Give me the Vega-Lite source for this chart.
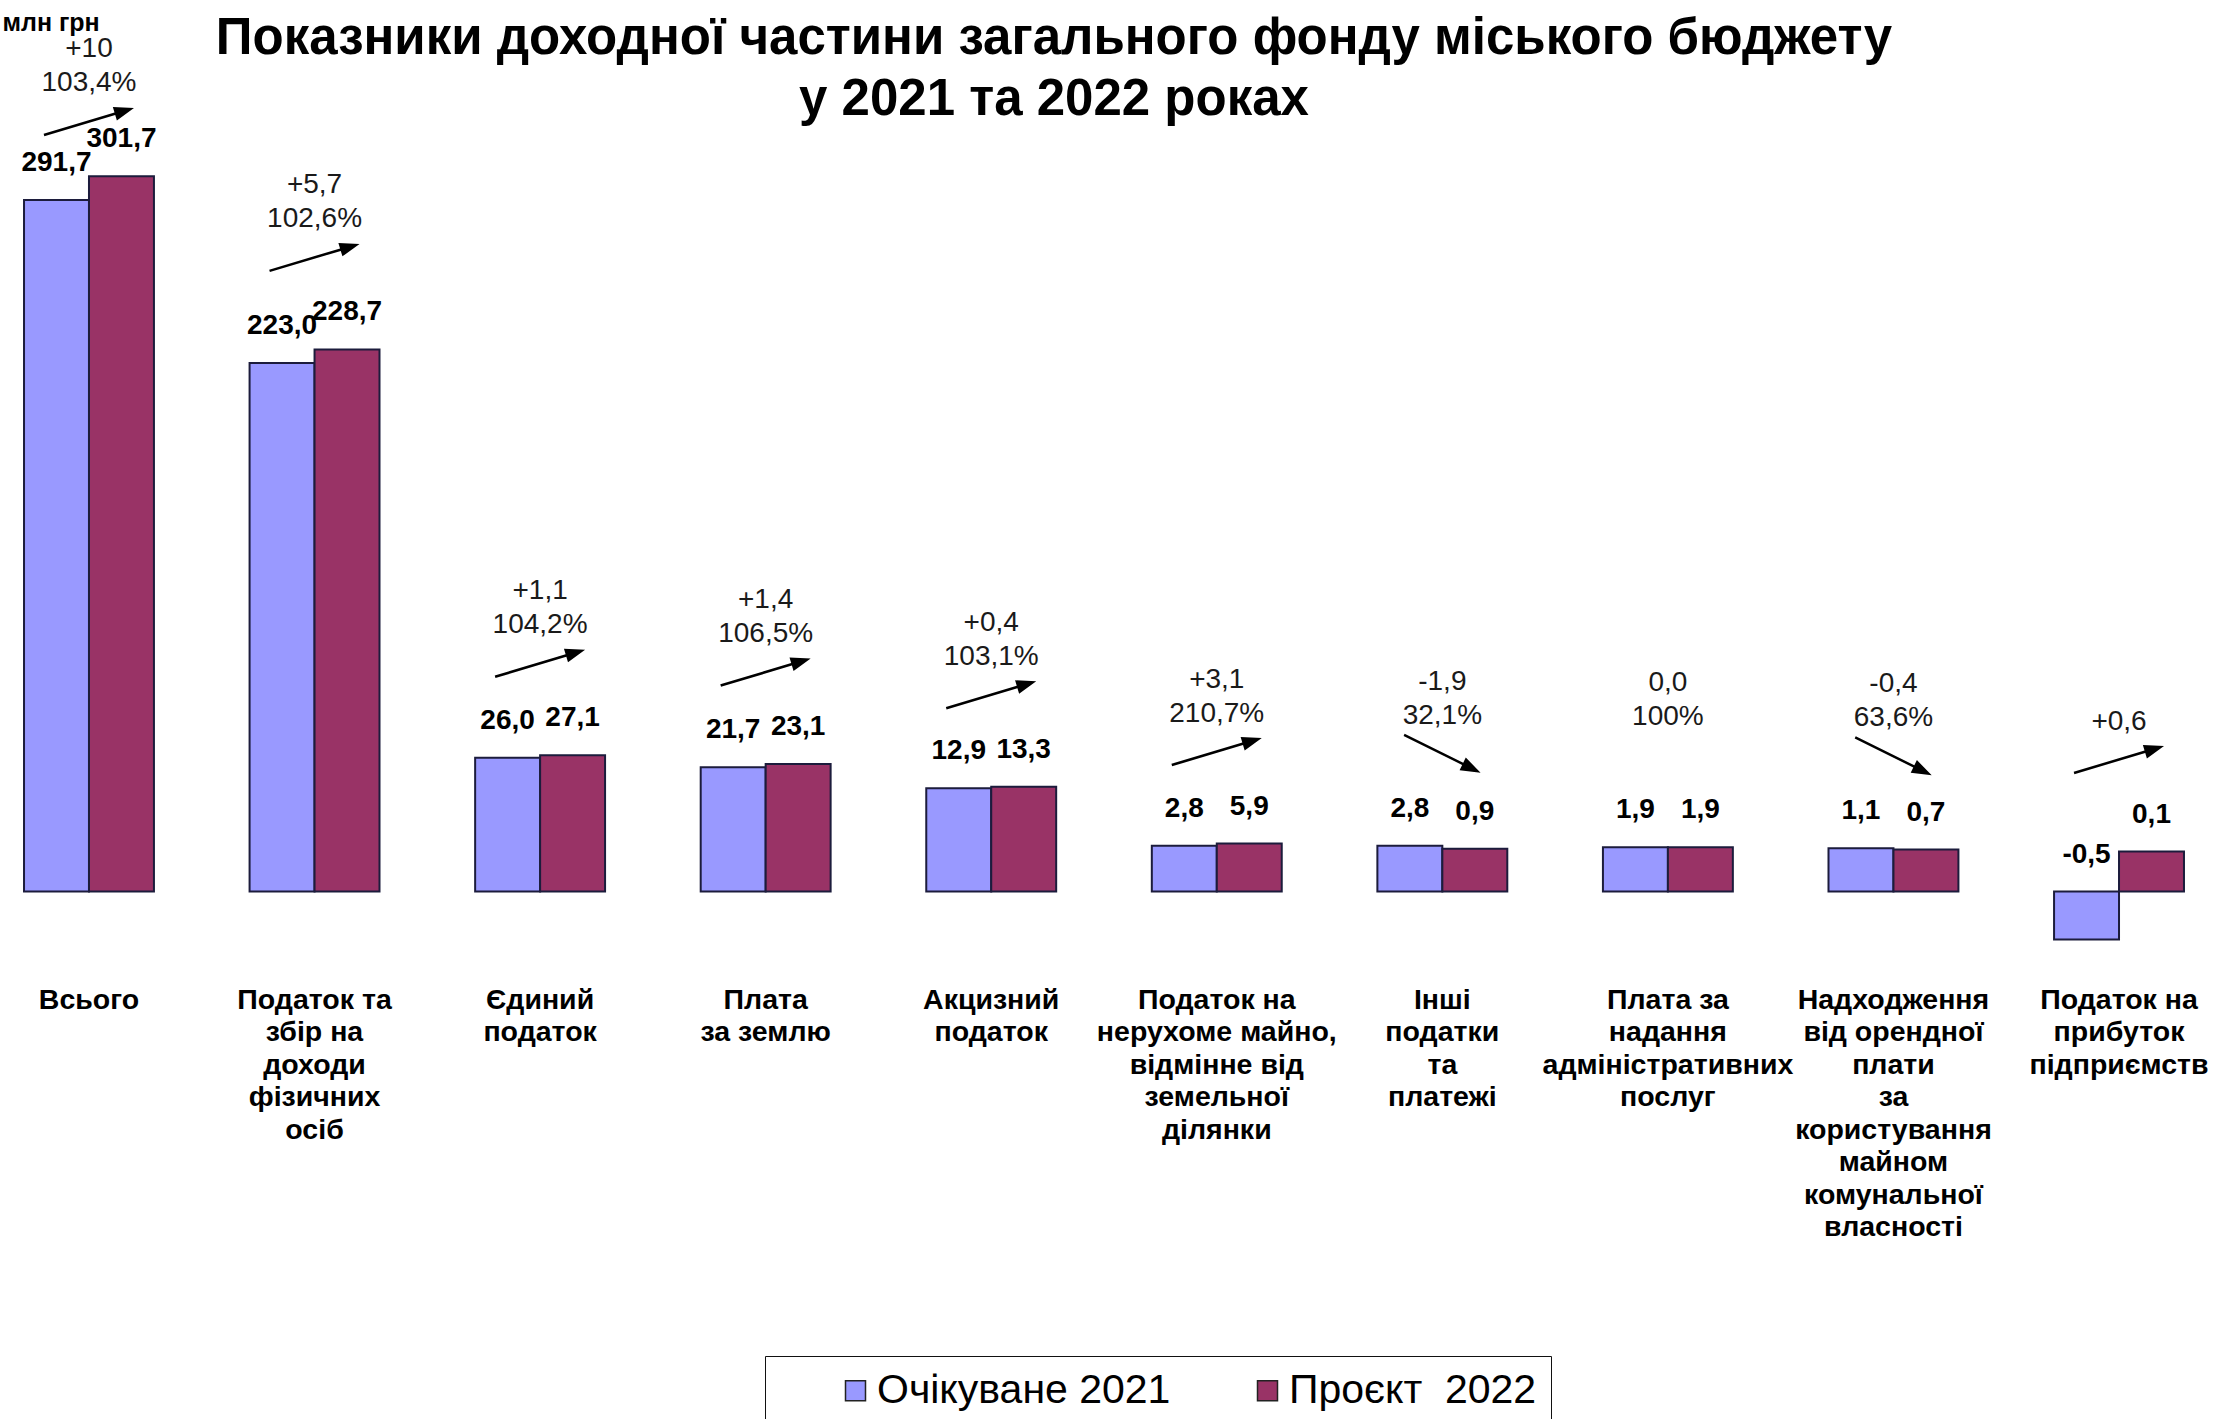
{
  "$schema": "https://vega.github.io/schema/vega-lite/v6.json",
  "width": 2208,
  "height": 900,
  "autosize": {"type": "none"},
  "padding": {"left": 0, "top": 0, "right": 11, "bottom": 519},
  "background": "white",
  "config": {
    "view": {"stroke": null},
    "font": "Liberation Sans",
    "locale": {"number": {"decimal": ",", "thousands": " ", "grouping": [3], "currency": ["", ""], "minus": "-"}},
    "axisY": {
      "title": "млн грн",
      "titleAngle": 0,
      "titleAlign": "left",
      "titleBaseline": "middle",
      "titleX": 2,
      "titleY": 22,
      "titleFont": "Liberation Sans",
      "titleFontSize": 25,
      "titleFontWeight": "bold",
      "titleColor": "black",
      "labels": false,
      "ticks": false,
      "domain": false,
      "grid": false
    }
  },
  "title": {
    "text": ["Показники доходної частини загального фонду міського бюджету", "у 2021 та 2022 роках"],
    "font": "Liberation Sans",
    "fontSize": 51,
    "fontWeight": "bold",
    "color": "black",
    "anchor": "middle",
    "frame": "group",
    "dx": -50,
    "offset": -126,
    "lineHeight": 61
  },
  "datasets": {
    "bars": [
      {"category": "Всього", "series": "Очікуване 2021", "value": 291.7},
      {"category": "Всього", "series": "Проєкт  2022", "value": 301.7},
      {"category": "Податок та\nзбір на\nдоходи\nфізичних\nосіб", "series": "Очікуване 2021", "value": 223.0},
      {"category": "Податок та\nзбір на\nдоходи\nфізичних\nосіб", "series": "Проєкт  2022", "value": 228.7},
      {"category": "Єдиний\nподаток", "series": "Очікуване 2021", "value": 26.0},
      {"category": "Єдиний\nподаток", "series": "Проєкт  2022", "value": 27.1},
      {"category": "Плата\nза землю", "series": "Очікуване 2021", "value": 21.7},
      {"category": "Плата\nза землю", "series": "Проєкт  2022", "value": 23.1},
      {"category": "Акцизний\nподаток", "series": "Очікуване 2021", "value": 12.9},
      {"category": "Акцизний\nподаток", "series": "Проєкт  2022", "value": 13.3},
      {"category": "Податок на\nнерухоме майно,\nвідмінне від\nземельної\nділянки", "series": "Очікуване 2021", "value": 2.8},
      {"category": "Податок на\nнерухоме майно,\nвідмінне від\nземельної\nділянки", "series": "Проєкт  2022", "value": 5.9},
      {"category": "Інші\nподатки\nта\nплатежі", "series": "Очікуване 2021", "value": 2.8},
      {"category": "Інші\nподатки\nта\nплатежі", "series": "Проєкт  2022", "value": 0.9},
      {"category": "Плата за\nнадання\nадміністративних\nпослуг", "series": "Очікуване 2021", "value": 1.9},
      {"category": "Плата за\nнадання\nадміністративних\nпослуг", "series": "Проєкт  2022", "value": 1.9},
      {"category": "Надходження\nвід орендної\nплати\nза\nкористування\nмайном\nкомунальної\nвласності", "series": "Очікуване 2021", "value": 1.1},
      {"category": "Надходження\nвід орендної\nплати\nза\nкористування\nмайном\nкомунальної\nвласності", "series": "Проєкт  2022", "value": 0.7},
      {"category": "Податок на\nприбуток\nпідприємств", "series": "Очікуване 2021", "value": -0.5},
      {"category": "Податок на\nприбуток\nпідприємств", "series": "Проєкт  2022", "value": 0.1}
    ],
    "notes": [
      {"category": "Всього", "change": "+10", "pct": "103,4%"},
      {"category": "Податок та\nзбір на\nдоходи\nфізичних\nосіб", "change": "+5,7", "pct": "102,6%"},
      {"category": "Єдиний\nподаток", "change": "+1,1", "pct": "104,2%"},
      {"category": "Плата\nза землю", "change": "+1,4", "pct": "106,5%"},
      {"category": "Акцизний\nподаток", "change": "+0,4", "pct": "103,1%"},
      {"category": "Податок на\nнерухоме майно,\nвідмінне від\nземельної\nділянки", "change": "+3,1", "pct": "210,7%"},
      {"category": "Інші\nподатки\nта\nплатежі", "change": "-1,9", "pct": "32,1%"},
      {"category": "Плата за\nнадання\nадміністративних\nпослуг", "change": "0,0", "pct": "100%"},
      {"category": "Надходження\nвід орендної\nплати\nза\nкористування\nмайном\nкомунальної\nвласності", "change": "-0,4", "pct": "63,6%"},
      {"category": "Податок на\nприбуток\nпідприємств", "change": "+0,6", "pct": ""}
    ]
  },
  "encoding": {
    "x": {
      "field": "category",
      "type": "nominal",
      "sort": null,
      "scale": {"paddingInner": 0.424, "paddingOuter": 0.1065},
      "axis": {
        "title": null,
        "domain": false,
        "ticks": false,
        "tickSize": 0,
        "labelAngle": 0,
        "labelFont": "Liberation Sans",
        "labelFontWeight": "bold",
        "labelFontSize": 28.5,
        "labelColor": "black",
        "labelLineHeight": 32.5,
        "labelBaseline": "middle",
        "labelPadding": 99,
        "labelLimit": 0,
        "labelOverlap": false,
        "labelBound": false,
        "labelExpr": "split(datum.label, '\\n')"
      }
    }
  },
  "layer": [
    {
      "data": {"name": "bars"},
      "mark": {"type": "bar", "stroke": "#1c1c3c", "strokeWidth": 2},
      "encoding": {
        "xOffset": {"field": "series", "type": "nominal", "sort": null, "scale": {"paddingInner": 0, "paddingOuter": 0}},
        "y": {
          "field": "value",
          "type": "quantitative",
          "title": "млн грн",
          "scale": {"type": "linear", "domain": [-0.5, 0, 0.1, 1, 3, 6, 13, 22, 27, 200, 310], "range": [939.5, 891.5, 851.5, 848.5, 845.5, 843.5, 787.5, 766.5, 755.5, 417.5, 156.5], "nice": false, "zero": false}
        },
        "y2": {"datum": 0},
        "color": {
          "field": "series",
          "type": "nominal",
          "sort": null,
          "scale": {"domain": ["Очікуване 2021", "Проєкт  2022"], "range": ["#9999FF", "#993366"]},
          "legend": {
            "title": null,
            "orient": "none",
            "legendX": 765,
            "legendY": 1356,
            "direction": "horizontal",
            "strokeColor": "#111111",
            "fillColor": "white",
            "padding": 14,
            "symbolType": "square",
            "symbolSize": 400,
            "symbolStrokeColor": "#222222",
            "symbolStrokeWidth": 1.5,
            "symbolOffset": 56,
            "labelFont": "Liberation Sans",
            "labelFontSize": 41,
            "labelColor": "black",
            "labelOffset": 1,
            "columnPadding": 20,
            "labelLimit": 0,
            "labelExpr": "replace(datum.label, '  ', '\u00a0 ')"
          }
        }
      }
    },
    {
      "data": {"name": "bars"},
      "transform": [{"calculate": "max(datum.value, 0)", "as": "lp"}],
      "mark": {"type": "text", "font": "Liberation Sans", "fontWeight": "bold", "fontSize": 28, "color": "black", "baseline": "middle", "dy": -37},
      "encoding": {
        "xOffset": {"field": "series", "type": "nominal", "sort": null, "scale": {"paddingInner": 0, "paddingOuter": 0}},
        "y": {
          "field": "lp",
          "type": "quantitative",
          "title": "млн грн",
          "scale": {"type": "linear", "domain": [-0.5, 0, 0.1, 1, 3, 6, 13, 22, 27, 200, 310], "range": [939.5, 891.5, 851.5, 848.5, 845.5, 843.5, 787.5, 766.5, 755.5, 417.5, 156.5], "nice": false, "zero": false}
        },
        "text": {"field": "value", "type": "quantitative", "format": ".1f"}
      }
    },
    {
      "data": {"name": "bars"},
      "transform": [
        {"pivot": "series", "value": "value", "groupby": ["category"]},
        {"calculate": "min(max(datum['Очікуване 2021'], datum['Проєкт  2022']), 286)", "as": "top"},
        {"calculate": "datum['Проєкт  2022'] > datum['Очікуване 2021'] ? 'up' : (datum['Проєкт  2022'] < datum['Очікуване 2021'] ? 'down' : 'none')", "as": "dir"},
        {"filter": "datum.dir != 'none'"}
      ],
      "mark": {"type": "point", "filled": true, "color": "black", "opacity": 1, "size": 8100, "yOffset": -92, "strokeWidth": 0},
      "encoding": {
        "y": {
          "field": "top",
          "type": "quantitative",
          "title": "млн грн",
          "scale": {"type": "linear", "domain": [-0.5, 0, 0.1, 1, 3, 6, 13, 22, 27, 200, 310], "range": [939.5, 891.5, 851.5, 848.5, 845.5, 843.5, 787.5, 766.5, 755.5, 417.5, 156.5], "nice": false, "zero": false}
        },
        "shape": {
          "field": "dir",
          "type": "nominal",
          "scale": {
            "domain": ["up", "down"],
            "range": [
              "M -0.992 0.327 L 0.583 -0.145 L 0.620 -0.023 L 1 -0.3 L 0.530 -0.322 L 0.567 -0.200 L -1.008 0.273 Z",
              "M -0.862 -0.395 L 0.440 0.248 L 0.383 0.363 L 0.85 0.42 L 0.521 0.083 L 0.464 0.198 L -0.838 -0.445 Z"
            ]
          },
          "legend": null
        }
      }
    },
    {
      "data": {"name": "bars"},
      "transform": [
        {"pivot": "series", "value": "value", "groupby": ["category"]},
        {"calculate": "min(max(datum['Очікуване 2021'], datum['Проєкт  2022']), 286)", "as": "top"},
        {"lookup": "category", "from": {"data": {"name": "notes"}, "key": "category", "fields": ["change", "pct"]}},
        {"calculate": "datum.pct ? datum.pct : datum.change", "as": "lower"}
      ],
      "mark": {"type": "text", "font": "Liberation Sans", "fontSize": 28, "color": "#1a1a1a", "baseline": "middle", "dy": -130},
      "encoding": {
        "y": {
          "field": "top",
          "type": "quantitative",
          "title": "млн грн",
          "scale": {"type": "linear", "domain": [-0.5, 0, 0.1, 1, 3, 6, 13, 22, 27, 200, 310], "range": [939.5, 891.5, 851.5, 848.5, 845.5, 843.5, 787.5, 766.5, 755.5, 417.5, 156.5], "nice": false, "zero": false}
        },
        "text": {"field": "lower", "type": "nominal"}
      }
    },
    {
      "data": {"name": "bars"},
      "transform": [
        {"pivot": "series", "value": "value", "groupby": ["category"]},
        {"calculate": "min(max(datum['Очікуване 2021'], datum['Проєкт  2022']), 286)", "as": "top"},
        {"lookup": "category", "from": {"data": {"name": "notes"}, "key": "category", "fields": ["change", "pct"]}},
        {"filter": "datum.pct != ''"}
      ],
      "mark": {"type": "text", "font": "Liberation Sans", "fontSize": 28, "color": "#1a1a1a", "baseline": "middle", "dy": -164},
      "encoding": {
        "y": {
          "field": "top",
          "type": "quantitative",
          "title": "млн грн",
          "scale": {"type": "linear", "domain": [-0.5, 0, 0.1, 1, 3, 6, 13, 22, 27, 200, 310], "range": [939.5, 891.5, 851.5, 848.5, 845.5, 843.5, 787.5, 766.5, 755.5, 417.5, 156.5], "nice": false, "zero": false}
        },
        "text": {"field": "change", "type": "nominal"}
      }
    }
  ]
}
